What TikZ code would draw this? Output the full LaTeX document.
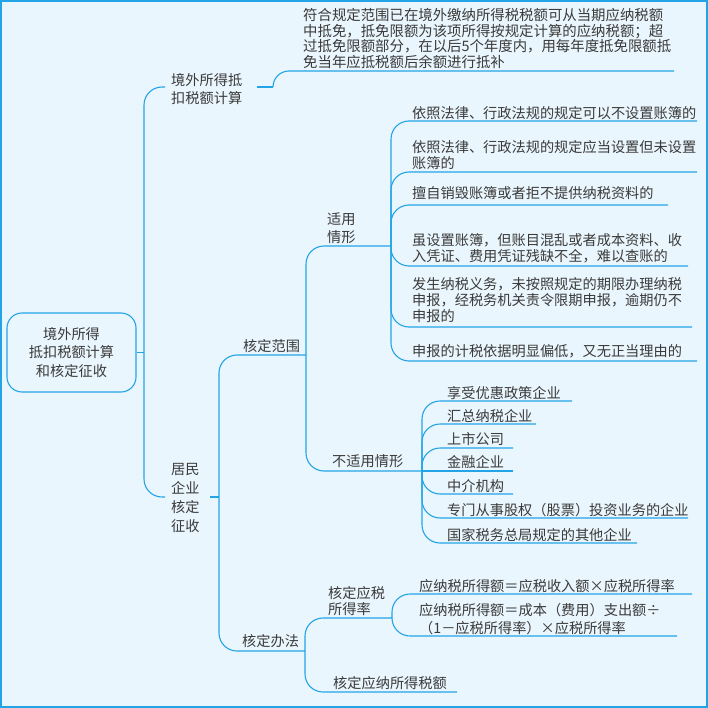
\documentclass[tikz,border=0pt]{standalone}
\usepackage{fontspec}
\newfontfamily\cjk{Noto Sans CJK SC}
\definecolor{bgc}{HTML}{EAF6FD}
\definecolor{linec}{HTML}{22A4E6}
\definecolor{textc}{HTML}{3A3A3A}
\begin{document}
\begin{tikzpicture}[x=1pt,y=-1pt,
  conn/.style={draw=linec, line width=1.1pt, rounded corners=18pt},
  lbl/.style={anchor=west, inner sep=0pt, align=left, text=textc, font=\cjk\fontsize{14.2}{16}\selectfont},
  lbl18/.style={lbl, font=\cjk\fontsize{14.2}{18.3}\selectfont},
  rootbox/.style={draw=linec, line width=1.1pt, rounded corners=15pt, minimum width=129pt, minimum height=79pt, inner sep=0pt, align=center, text=textc, font=\cjk\fontsize{14.2}{18.5}\selectfont}]
\useasboundingbox (0,0) rectangle (708,708);
\fill[bgc] (0,0) rectangle (708,708);
\draw[linec, line width=2pt] (1,1) rectangle (707,707);

% nodes
\node[rootbox] (root) at (71.5,352.5) {境外所得\\抵扣税额计算\\和核定征收};
\node[lbl18] (jw) at (171,89) {境外所得抵\\扣税额计算};
\node[lbl, font=\cjk\fontsize{14.4}{15.7}\selectfont] (jwd) at (303,38.5) {符合规定范围已在境外缴纳所得税税额可从当期应纳税额\\中抵免，抵免限额为该项所得按规定计算的应纳税额；超\\过抵免限额部分，在以后5个年度内，用每年度抵免限额抵\\免当年应抵税额后余额进行抵补};
\node[lbl18, font=\cjk\fontsize{14.2}{18.7}\selectfont] (jm) at (171,498) {居民\\企业\\核定\\征收};
\node[lbl] (fw) at (243,346) {核定范围};
\node[lbl18] (sy) at (327,228) {适用\\情形};
\node[lbl] (bsy) at (332,461) {不适用情形};
\node[lbl] (s1) at (412,113) {依照法律、行政法规的规定可以不设置账簿的};
\node[lbl] (s2) at (412,155) {依照法律、行政法规的规定应当设置但未设置\\账簿的};
\node[lbl] (s3) at (412,193) {擅自销毁账簿或者拒不提供纳税资料的};
\node[lbl] (s4) at (412,248) {虽设置账簿，但账目混乱或者成本资料、收\\入凭证、费用凭证残缺不全，难以查账的};
\node[lbl] (s5) at (412,300) {发生纳税义务，未按照规定的期限办理纳税\\申报，经税务机关责令限期申报，逾期仍不\\申报的};
\node[lbl] (s6) at (412,351) {申报的计税依据明显偏低，又无正当理由的};
\node[lbl] (b1) at (447,393) {享受优惠政策企业};
\node[lbl] (b2) at (447,416) {汇总纳税企业};
\node[lbl] (b3) at (447,439) {上市公司};
\node[lbl] (b4) at (447,462) {金融企业};
\node[lbl] (b5) at (447,486) {中介机构};
\node[lbl] (b6) at (447,510) {专门从事股权（股票）投资业务的企业};
\node[lbl] (b7) at (447,535) {国家税务总局规定的其他企业};
\node[lbl] (bf) at (242,641) {核定办法};
\node[lbl18, font=\cjk\fontsize{14.2}{16.5}\selectfont] (sdl) at (328,601) {核定应税\\所得率};
\node[lbl] (f1) at (419,586) {应纳税所得额＝应税收入额×应税所得率};
\node[lbl18] (f2) at (419,619) {应纳税所得额＝成本（费用）支出额÷\\（1－应税所得率）×应税所得率};
\node[lbl] (se) at (333,683) {核定应纳所得税额};

% junction coordinates
\coordinate (t0) at (144,352.5);
\coordinate (jwL) at (165,87);
\coordinate (jwR) at (257,87);
\coordinate (t1) at (273,87);
\coordinate (jwdE) at (674,71);
\coordinate (jmL) at (165,497);
\coordinate (jmR) at (210,497);
\coordinate (t2) at (219,497);
\coordinate (t3) at (306,355);
\coordinate (t5) at (305,651);
\coordinate (t4a) at (391,246);
\coordinate (t4b) at (422,471);
\coordinate (t6) at (392,618);
\coordinate (s1E) at (697,121);
\coordinate (s2E) at (697,172);
\coordinate (s3E) at (668,205);
\coordinate (s4E) at (688,266);
\coordinate (s5E) at (692,327);
\coordinate (s6E) at (697,361);
\coordinate (b1E) at (572,401);
\coordinate (b2E) at (536,424);
\coordinate (b3E) at (513,448);
\coordinate (b4E) at (513,471);
\coordinate (b5E) at (513,494);
\coordinate (b6E) at (688,518);
\coordinate (b7E) at (637,543);
\coordinate (f1E) at (692,594);
\coordinate (f2E) at (677,636);
\coordinate (seE) at (457,692);

% connectors
\draw[conn] (root.east) -- (t0);
\draw[conn] (t0) |- (jwL);
\draw[conn] (t0) |- (jmL);
\draw[conn] (jwR) -- (t1);
\draw[conn, rounded corners=16pt] (t1) |- (jwdE);
\draw[conn] (jmR) -- (t2);
\draw[conn] (t2) |- (t3);
\draw[conn] (t2) |- (t5);
\draw[conn] (t3) |- (t4a);
\draw[conn] (t3) |- (t4b);
\foreach \e in {s1E,s2E,s3E,s4E,s5E,s6E} \draw[conn] (t4a) |- (\e);
\foreach \e in {b1E,b2E,b3E,b5E,b6E,b7E} \draw[conn] (t4b) |- (\e);
\draw[conn] (t4b) -- (b4E);
\draw[conn] (t5) |- (t6);
\draw[conn] (t5) |- (seE);
\draw[conn] (t6) |- (f1E);
\draw[conn] (t6) |- (f2E);
\end{tikzpicture}
\end{document}
